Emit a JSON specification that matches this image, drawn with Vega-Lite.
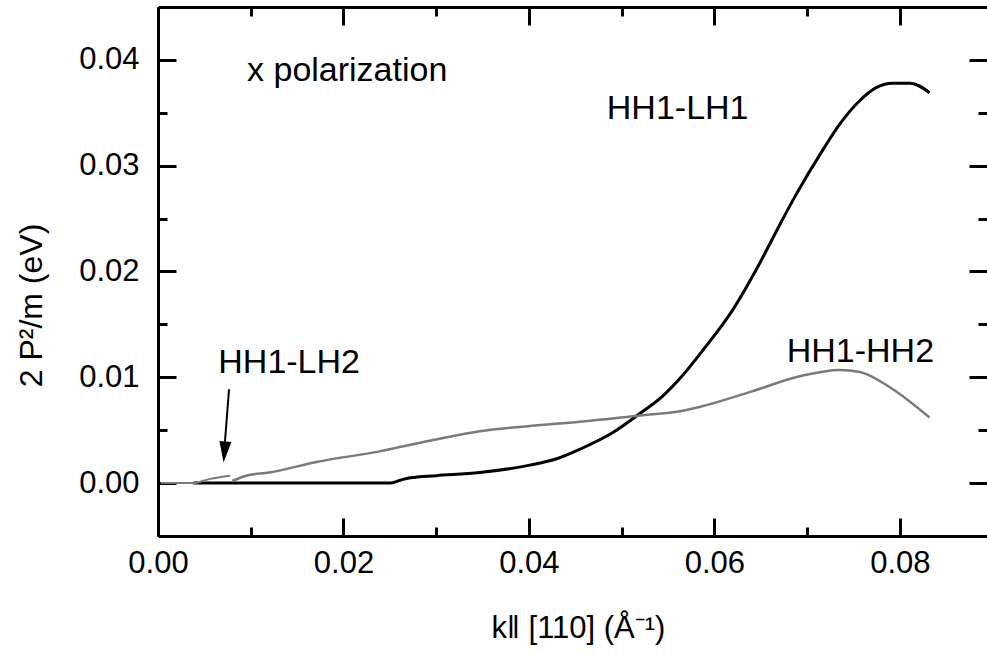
{
  "$schema": "https://vega.github.io/schema/vega-lite/v6.json",
  "autosize": "none",
  "width": 829,
  "height": 529,
  "padding": {"left": 158, "top": 7, "right": 0, "bottom": 132},
  "background": "white",
  "config": {
    "view": {"stroke": null},
    "font": "Liberation Sans",
    "axis": {
      "domainColor": "black", "domainWidth": 3, "tickColor": "black", "tickWidth": 3,
      "grid": false, "labelFont": "Liberation Sans", "titleFont": "Liberation Sans",
      "labelColor": "black", "titleColor": "black", "titleFontWeight": "normal"
    }
  },
  "datasets": {
    "curves": [
      {"series": "HH1-LH1", "x": 0.0038, "y": 0},
      {"series": "HH1-LH1", "x": 0.01, "y": 0},
      {"series": "HH1-LH1", "x": 0.02, "y": 0},
      {"series": "HH1-LH1", "x": 0.025, "y": 0},
      {"series": "HH1-LH1", "x": 0.0262, "y": 0.0003},
      {"series": "HH1-LH1", "x": 0.0272, "y": 0.0005},
      {"series": "HH1-LH1", "x": 0.03, "y": 0.0007},
      {"series": "HH1-LH1", "x": 0.0347, "y": 0.001},
      {"series": "HH1-LH1", "x": 0.0401, "y": 0.0017},
      {"series": "HH1-LH1", "x": 0.043, "y": 0.0023},
      {"series": "HH1-LH1", "x": 0.0455, "y": 0.0032},
      {"series": "HH1-LH1", "x": 0.0491, "y": 0.0048},
      {"series": "HH1-LH1", "x": 0.052, "y": 0.0066},
      {"series": "HH1-LH1", "x": 0.0544, "y": 0.0082},
      {"series": "HH1-LH1", "x": 0.0563, "y": 0.0099},
      {"series": "HH1-LH1", "x": 0.0588, "y": 0.0126},
      {"series": "HH1-LH1", "x": 0.062, "y": 0.0164},
      {"series": "HH1-LH1", "x": 0.0649, "y": 0.0208},
      {"series": "HH1-LH1", "x": 0.0668, "y": 0.024},
      {"series": "HH1-LH1", "x": 0.0687, "y": 0.0271},
      {"series": "HH1-LH1", "x": 0.0717, "y": 0.0315},
      {"series": "HH1-LH1", "x": 0.0735, "y": 0.0339},
      {"series": "HH1-LH1", "x": 0.0755, "y": 0.036},
      {"series": "HH1-LH1", "x": 0.0775, "y": 0.0374},
      {"series": "HH1-LH1", "x": 0.0792, "y": 0.0378},
      {"series": "HH1-LH1", "x": 0.0811, "y": 0.0378},
      {"series": "HH1-LH1", "x": 0.0832, "y": 0.0369},
      {"series": "HH1-HH2", "x": 0.008, "y": 0.0002},
      {"series": "HH1-HH2", "x": 0.0095, "y": 0.0007},
      {"series": "HH1-HH2", "x": 0.012, "y": 0.001},
      {"series": "HH1-HH2", "x": 0.0171, "y": 0.002},
      {"series": "HH1-HH2", "x": 0.0239, "y": 0.003},
      {"series": "HH1-HH2", "x": 0.0293, "y": 0.004},
      {"series": "HH1-HH2", "x": 0.0347, "y": 0.0049},
      {"series": "HH1-HH2", "x": 0.0401, "y": 0.0054},
      {"series": "HH1-HH2", "x": 0.0455, "y": 0.0058},
      {"series": "HH1-HH2", "x": 0.052, "y": 0.0064},
      {"series": "HH1-HH2", "x": 0.0563, "y": 0.0068},
      {"series": "HH1-HH2", "x": 0.0584, "y": 0.0072},
      {"series": "HH1-HH2", "x": 0.0638, "y": 0.0086},
      {"series": "HH1-HH2", "x": 0.0692, "y": 0.0101},
      {"series": "HH1-HH2", "x": 0.0735, "y": 0.0107},
      {"series": "HH1-HH2", "x": 0.0757, "y": 0.0105},
      {"series": "HH1-HH2", "x": 0.0792, "y": 0.0089},
      {"series": "HH1-HH2", "x": 0.0832, "y": 0.0062},
      {"series": "HH1-LH2", "x": 0.0003, "y": 0},
      {"series": "HH1-LH2", "x": 0.0038, "y": 0},
      {"series": "HH1-LH2", "x": 0.0056, "y": 0.0004},
      {"series": "HH1-LH2", "x": 0.0078, "y": 0.0007}
    ],
    "labels": [
      {"label": "x polarization", "x": 0.0096, "y": 0.038},
      {"label": "HH1-LH1", "x": 0.0484, "y": 0.0344},
      {"label": "HH1-HH2", "x": 0.0678, "y": 0.01145},
      {"label": "HH1-LH2", "x": 0.0065, "y": 0.0104}
    ],
    "arrow": [
      {"x": 0.00766, "y": 0.00887, "x2": 0.00722, "y2": 0.0039, "hx": 0.00717, "hy": 0.00294}
    ]
  },
  "layer": [
    {
      "data": {"name": "curves"},
      "mark": {"type": "line", "interpolate": "monotone"},
      "encoding": {
        "x": {
          "field": "x", "type": "quantitative",
          "scale": {"domain": [0, 0.0894], "nice": false, "zero": false},
          "axis": {
            "orient": "bottom",
            "values": [0, 0.01, 0.02, 0.03, 0.04, 0.05, 0.06, 0.07, 0.08],
            "tickSize": {"condition": {"test": "abs(datum.value*50 - round(datum.value*50)) < 0.001", "value": -18}, "value": -9},
            "labelExpr": "abs(datum.value*50 - round(datum.value*50)) < 0.001 ? format(datum.value, '.2f') : ''",
            "labelFontSize": 31, "labelPadding": 30, "labelFlush": false,
            "title": "k‖ [110] (Å⁻¹)", "titleFontSize": 31,
            "titleX": 420, "titleY": 101, "titleBaseline": "alphabetic", "titleAlign": "center"
          }
        },
        "y": {
          "field": "y", "type": "quantitative",
          "scale": {"domain": [-0.005, 0.045], "nice": false, "zero": false},
          "axis": {
            "orient": "left",
            "values": [0, 0.005, 0.01, 0.015, 0.02, 0.025, 0.03, 0.035, 0.04],
            "tickSize": {"condition": {"test": "abs(datum.value*100 - round(datum.value*100)) < 0.001", "value": -18}, "value": -9},
            "labelExpr": "abs(datum.value*100 - round(datum.value*100)) < 0.001 ? format(datum.value, '.2f') : ''",
            "labelFontSize": 31, "labelPadding": 37, "labelFlush": false,
            "title": "2 P²/m (eV)", "titleFontSize": 32,
            "titleX": -117, "titleY": 298, "titleAngle": -90, "titleBaseline": "alphabetic", "titleAlign": "center"
          }
        },
        "color": {
          "field": "series", "type": "nominal",
          "scale": {"domain": ["HH1-LH1", "HH1-HH2", "HH1-LH2"], "range": ["#000000", "#7a7a7a", "#7a7a7a"]},
          "legend": null
        },
        "strokeWidth": {
          "field": "series", "type": "nominal",
          "scale": {"domain": ["HH1-LH1", "HH1-HH2", "HH1-LH2"], "range": [3, 2, 2]},
          "legend": null
        }
      }
    },
    {
      "data": {"name": "labels"},
      "mark": {"type": "text", "align": "left", "baseline": "alphabetic", "fontSize": 34, "font": "Liberation Sans", "color": "black"},
      "encoding": {
        "x": {
          "field": "x", "type": "quantitative",
          "axis": {
            "orient": "top", "domain": true,
            "values": [0, 0.01, 0.02, 0.03, 0.04, 0.05, 0.06, 0.07, 0.08],
            "tickSize": {"condition": {"test": "abs(datum.value*50 - round(datum.value*50)) < 0.001", "value": -18}, "value": -9},
            "labels": false, "title": null
          }
        },
        "y": {
          "field": "y", "type": "quantitative",
          "axis": {
            "orient": "right", "domain": false,
            "values": [0, 0.005, 0.01, 0.015, 0.02, 0.025, 0.03, 0.035, 0.04],
            "tickSize": {"condition": {"test": "abs(datum.value*100 - round(datum.value*100)) < 0.001", "value": -18}, "value": -9},
            "labels": false, "title": null
          }
        },
        "text": {"field": "label"}
      }
    },
    {
      "data": {"name": "arrow"},
      "mark": {"type": "rule", "color": "black", "strokeWidth": 2},
      "encoding": {
        "x": {"field": "x", "type": "quantitative", "axis": null},
        "y": {"field": "y", "type": "quantitative", "axis": null},
        "x2": {"field": "x2"},
        "y2": {"field": "y2"}
      }
    },
    {
      "data": {"name": "arrow"},
      "mark": {"type": "point", "shape": "M-0.57,-1L0.57,-1L0,1Z", "size": 441, "filled": true, "color": "black", "opacity": 1, "angle": 5},
      "encoding": {
        "x": {"field": "hx", "type": "quantitative", "axis": null},
        "y": {"field": "hy", "type": "quantitative", "axis": null}
      }
    }
  ],
  "resolve": {"axis": {"x": "independent", "y": "independent"}}
}
